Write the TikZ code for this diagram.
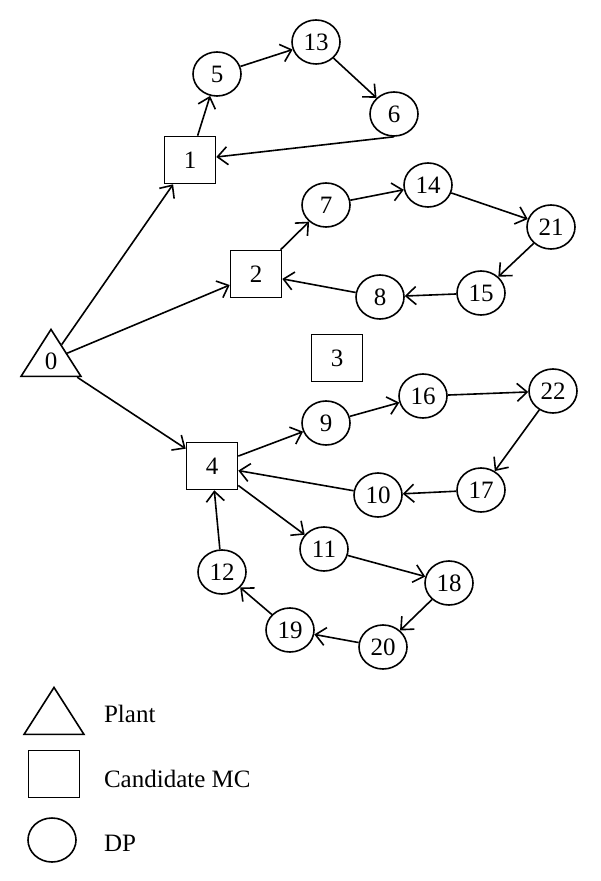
\documentclass[tikz,border=0pt]{standalone}
\usepackage{fontspec}
\setmainfont{Liberation Serif}
\usetikzlibrary{
  arrows.meta,
  shapes.geometric
}

\begin{document}
\begin{tikzpicture}[
  x=0.5pt, y=-0.5pt,
  font=\fontsize{12.5}{14}\selectfont,
  plant/.style={draw, isosceles triangle, shape border rotate=90, isosceles triangle apex angle=65, isosceles triangle stretches, minimum width=30pt, minimum height=23.5pt, inner sep=0pt, line width=0.8pt},
  mc/.style={draw, rectangle, minimum width=25.5pt, minimum height=23.5pt, inner sep=0pt, line width=0.8pt},
  dp/.style={draw, ellipse, minimum width=24pt, minimum height=22pt, inner sep=0pt, line width=0.8pt},
  arr/.style={-{Straight Barb[length=5pt, width=9pt]}, line width=0.8pt}
]
\useasboundingbox (0,0) rectangle (600,881);

% Plant and candidate MCs
\node[plant] (p0) at (51,360) {};
\node at (51,361) {0};
\node[mc] (m1) at (190,160) {1};
\node[mc] (m2) at (256,274) {2};
\node[mc] (m3) at (337,358) {3};
\node[mc] (m4) at (212,466) {4};

% DPs, route of MC 1
\node[dp] (d5) at (217,74) {5};
\node[dp] (d13) at (316,42) {13};
\node[dp] (d6) at (394,114) {6};

% DPs, route of MC 2
\node[dp] (d7) at (326,205) {7};
\node[dp] (d14) at (428,185) {14};
\node[dp] (d21) at (551,227) {21};
\node[dp] (d15) at (481,293) {15};
\node[dp] (d8) at (380,297) {8};

% DPs, routes of MC 4
\node[dp] (d9) at (326,423) {9};
\node[dp] (d16) at (423,396) {16};
\node[dp] (d22) at (553,391) {22};
\node[dp] (d17) at (481,490) {17};
\node[dp] (d10) at (378,495) {10};
\node[dp] (d11) at (324,549) {11};
\node[dp] (d18) at (449,583) {18};
\node[dp] (d20) at (383,647) {20};
\node[dp] (d19) at (290,630) {19};
\node[dp] (d12) at (222,572) {12};

% Arrows
\draw[arr] (p0) -- (m1);
\draw[arr] (p0) -- (m2);
\draw[arr] (p0) -- (m4);

\draw[arr] (m1) -- (d5);
\draw[arr] (d5) -- (d13);
\draw[arr] (d13) -- (d6);
\draw[arr] (d6.south) -- (m1);

\draw[arr] (m2) -- (d7);
\draw[arr] (d7) -- (d14);
\draw[arr] (d14) -- (d21);
\draw[arr] (d21) -- (d15);
\draw[arr] (d15) -- (d8);
\draw[arr] (d8) -- (m2);

\draw[arr] (m4) -- (d9);
\draw[arr] (d9) -- (d16);
\draw[arr] (d16) -- (d22);
\draw[arr] (d22) -- (d17);
\draw[arr] (d17) -- (d10);
\draw[arr] (d10) -- (m4);

\draw[arr] (m4) -- (d11);
\draw[arr] (d11) -- (d18);
\draw[arr] (d18) -- (d20);
\draw[arr] (d20) -- (d19);
\draw[arr] (d19) -- (d12);
\draw[arr] (d12) -- (m4);

% Legend
\node[plant] (lp) at (54,718) {};
\node[mc] (lm) at (54,774) {};
\node[dp] (ld) at (52,840) {};
\node[anchor=west] (tp) at (97,714) {Plant};
\node[anchor=west] (tm) at (97,779) {Candidate MC};
\node[anchor=west] (td) at (97,843) {DP};

\end{tikzpicture}
\end{document}
